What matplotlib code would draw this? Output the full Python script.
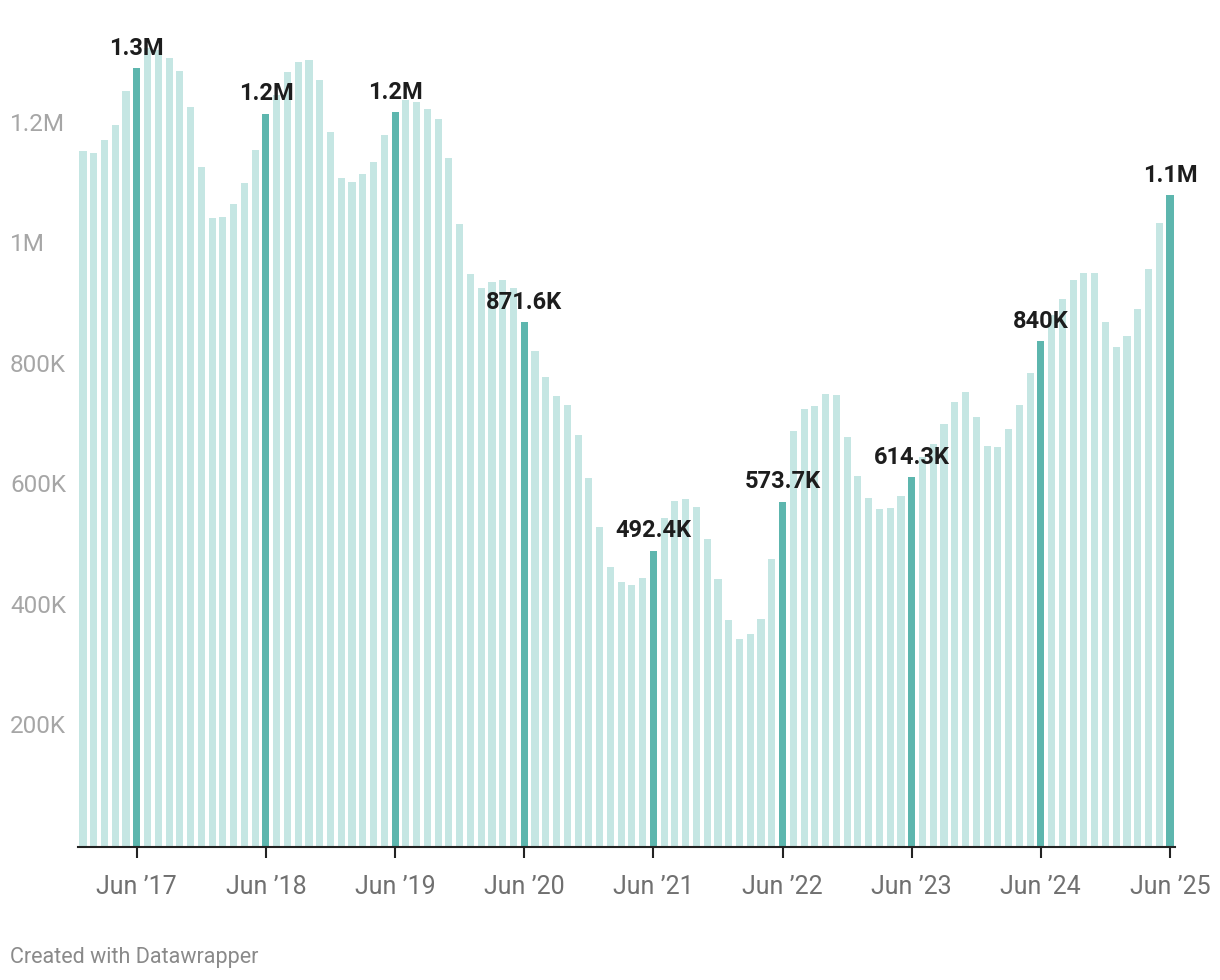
import matplotlib.pyplot as plt
import matplotlib.transforms as mtransforms
import numpy as np

# monthly values, Jan 2017 - Jun 2025 (thousands)
values = [
    1156, 1153, 1174, 1199, 1256, 1294, 1327, 1324, 1311, 1289, 1229, 1130,
    1045, 1047, 1068, 1103, 1158, 1218, 1249, 1287, 1304, 1307, 1274, 1188,
    1111, 1105, 1118, 1138, 1183, 1221, 1241, 1238, 1226, 1209, 1145, 1035,
    952, 929, 939, 942, 929, 871.6, 824, 781, 749, 734, 684, 613,
    532, 465, 440, 435, 447, 492.4, 547, 575, 578, 565, 512, 445,
    377, 346, 354, 379, 478, 573.7, 691, 728, 733, 752, 751, 681,
    616, 580, 561, 563, 583, 614.3, 648, 669, 703, 739, 756, 714,
    666, 664, 694, 734, 787, 840, 884, 910, 942, 953, 953, 872,
    831, 849, 894, 960, 1037, 1083,
]
values = np.array(values) * 1000

highlight_idx = [5, 17, 29, 41, 53, 65, 77, 89, 101]
highlight_labels = ["1.3M", "1.2M", "1.2M", "871.6K", "492.4K", "573.7K", "614.3K", "840K", "1.1M"]
xtick_labels = ["Jun \u201917", "Jun \u201918", "Jun \u201919", "Jun \u201920", "Jun \u201921",
                "Jun \u201922", "Jun \u201923", "Jun \u201924", "Jun \u201925"]
ytick_vals = [200000, 400000, 600000, 800000, 1000000, 1200000]
ytick_labels = ["200K", "400K", "600K", "800K", "1M", "1.2M"]

plt.rcParams["font.family"] = ["Roboto", "DejaVu Sans"]

fig = plt.figure(figsize=(12.2, 9.8), dpi=100)
ax = fig.add_axes([77.6 / 1220, 133 / 980, (1175.4 - 77.6) / 1220, 817 / 980])

x = np.arange(len(values))
colors = ["#c5e6e3"] * len(values)
for i in highlight_idx:
    colors[i] = "#5db6ae"
ax.bar(x, values, width=0.66, color=colors, zorder=2)

ax.set_xlim(-0.5, len(values) - 0.5)
ax.set_ylim(0, 1357000)

for i, lab in zip(highlight_idx, highlight_labels):
    ax.annotate(lab, (i, values[i]), xytext=(0, 6), textcoords="offset points",
                ha="center", va="bottom", fontsize=17, fontweight="bold", color="#1d1d1d")

# y labels at the left edge, no gridlines
trans = mtransforms.blended_transform_factory(fig.transFigure, ax.transData)
for v, lab in zip(ytick_vals, ytick_labels):
    ax.text(10 / 1220, v, lab, transform=trans, ha="left", va="center",
            fontsize=17.5, color="#a6a6a6")

for s in ["top", "right", "left"]:
    ax.spines[s].set_visible(False)
ax.spines["bottom"].set_color("#222222")
ax.spines["bottom"].set_linewidth(1.5)
ax.set_yticks([])
ax.set_xticks(highlight_idx)
ax.set_xticklabels(xtick_labels, fontsize=18, color="#707070")
ax.tick_params(axis="x", length=8, width=1.5, color="#222222", pad=12)

fig.text(10 / 1220, 1 - 957 / 980, "Created with Datawrapper", ha="left", va="center",
         fontsize=15.5, color="#8a8a8a")

fig.savefig("out.png", dpi=100, facecolor="white")
